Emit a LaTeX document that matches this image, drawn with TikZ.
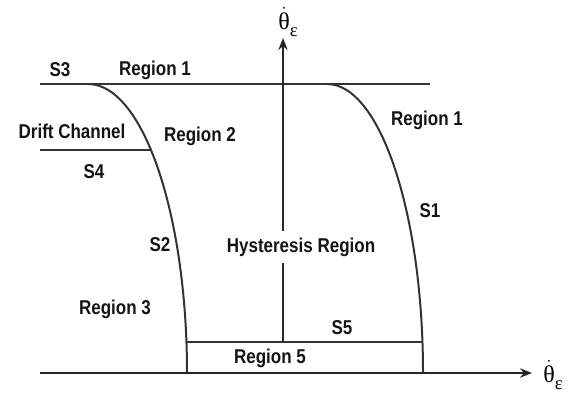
\documentclass[tikz,border=0pt]{standalone}
\usepackage{fontspec}
\newfontfamily\lblfont[FakeStretch=0.85]{Liberation Sans}
\newfontfamily\grkfont{Liberation Serif}
\usetikzlibrary{arrows.meta}
\newcommand{\thetadotlbl}{{\fontsize{18}{20}\selectfont$\dot{\hbox{\grkfont θ}}$\raisebox{-0.3em}{\grkfont\fontsize{14}{16}\selectfont ε}}}
\begin{document}
\begin{tikzpicture}[x=0.75pt,y=-0.75pt,
  curve/.style={draw=black!80,line width=1.5pt},
  axis/.style={draw=black!85,line width=1.6pt,-{Stealth[length=9pt,width=7pt]}},
  lbl/.style={font=\lblfont\bfseries\fontsize{15}{17}\selectfont,text=black!92,inner sep=1pt},
  axlbl/.style={inner sep=0pt}]
\useasboundingbox (0,0) rectangle (573,393);
% coordinates
\coordinate (xs) at (40,373);
\coordinate (xe) at (532,373);
\coordinate (ys) at (283,342);
\coordinate (ye) at (283,38);
\coordinate (t1) at (40,84);
\coordinate (t2) at (430,84);
\coordinate (c1) at (88,84);
\coordinate (c2) at (327,84);
\coordinate (s4a) at (40,150);
\coordinate (s4b) at (151,150);
\coordinate (s5a) at (187,342);
\coordinate (s5b) at (423,342);
% lines
\draw[curve] (t1) -- (t2);
\draw[curve] (s4a) -- (s4b);
\draw[curve] (s5a) -- (s5b);
\draw[curve] (c1) arc[start angle=90,end angle=0,x radius=99,y radius=-289];
\draw[curve] (c2) arc[start angle=90,end angle=0,x radius=96,y radius=-289];
\draw[axis] (xs) -- (xe);
\draw[axis] (ys) -- (ye);
% axis labels
\node[axlbl] (ylab) at (288,22) {\thetadotlbl};
\node[axlbl] (xlab) at (553,375) {\thetadotlbl};
% labels
\node[lbl] (s3) at (60,70) {S3};
\node[lbl] (r1a) at (155,70) {Region 1};
\node[lbl] (dc) at (72,131) {Drift Channel};
\node[lbl] (r2) at (200,136) {Region 2};
\node[lbl] (s4) at (94,172) {S4};
\node[lbl] (r1b) at (427,120) {Region 1};
\node[lbl] (s1) at (430,211) {S1};
\node[lbl] (s2) at (160,245) {S2};
\node[lbl,fill=white,inner xsep=6pt,inner ysep=5pt] (hr) at (301,247) {Hysteresis Region};
\node[lbl] (r3) at (115,309) {Region 3};
\node[lbl] (s5) at (342,328) {S5};
\node[lbl] (r5) at (270,358) {Region 5};
\end{tikzpicture}
\end{document}
